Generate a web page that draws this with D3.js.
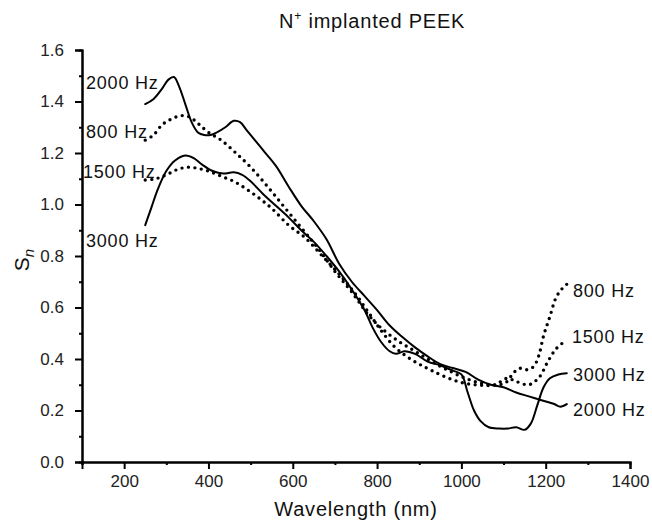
<!DOCTYPE html>
<html>
<head>
<meta charset="utf-8">
<script src="https://cdn.jsdelivr.net/npm/d3@7"></script>
<style>
  body { margin: 0; background: #fff; }
  svg { display: block; }
</style>
</head>
<body>
<script>
// wavelength (nm) / S_n, one pair of arrays per frequency
const nm2000 = [250, 270, 290, 305, 318, 330, 345, 360, 375, 390, 405, 420, 440, 460, 475, 490, 510, 530, 560, 590, 620, 650, 680, 710, 740, 770, 800, 830, 860, 890, 920, 950, 980, 1010, 1040, 1070, 1100, 1130, 1160, 1190, 1220, 1235, 1250];
const s2000 = [1.39, 1.41, 1.45, 1.485, 1.495, 1.46, 1.39, 1.32, 1.28, 1.27, 1.27, 1.28, 1.3, 1.325, 1.32, 1.29, 1.25, 1.21, 1.15, 1.07, 0.995, 0.935, 0.865, 0.77, 0.7, 0.645, 0.59, 0.53, 0.485, 0.445, 0.41, 0.38, 0.365, 0.35, 0.32, 0.3, 0.29, 0.27, 0.255, 0.24, 0.225, 0.215, 0.225];

const nm3000 = [250, 265, 280, 300, 320, 345, 365, 385, 410, 435, 460, 480, 500, 530, 560, 590, 620, 650, 680, 710, 740, 770, 790, 810, 830, 845, 865, 890, 920, 950, 980, 1000, 1015, 1030, 1045, 1065, 1090, 1110, 1130, 1150, 1165, 1180, 1195, 1210, 1230, 1250];
const s3000 = [0.92, 0.99, 1.06, 1.13, 1.17, 1.19, 1.18, 1.155, 1.13, 1.12, 1.125, 1.115, 1.09, 1.04, 0.995, 0.95, 0.9, 0.855, 0.8, 0.74, 0.67, 0.59, 0.52, 0.465, 0.43, 0.42, 0.43, 0.42, 0.39, 0.375, 0.355, 0.34, 0.27, 0.2, 0.16, 0.135, 0.13, 0.13, 0.135, 0.125, 0.15, 0.22, 0.29, 0.325, 0.34, 0.345];

const nm800 = [250, 270, 290, 310, 335, 355, 375, 400, 430, 465, 500, 540, 580, 620, 660, 700, 740, 780, 810, 850, 890, 930, 970, 1010, 1050, 1090, 1108, 1123, 1139, 1155, 1171, 1183, 1195, 1210, 1225, 1240, 1250];
const s800 = [1.25, 1.27, 1.31, 1.33, 1.345, 1.34, 1.315, 1.28, 1.25, 1.2, 1.145, 1.07, 0.99, 0.91, 0.83, 0.74, 0.66, 0.57, 0.52, 0.47, 0.43, 0.39, 0.355, 0.325, 0.305, 0.3, 0.312, 0.345, 0.364, 0.358, 0.37, 0.41, 0.49, 0.565, 0.64, 0.675, 0.69];

const nm1500 = [250, 275, 300, 325, 350, 375, 400, 430, 460, 490, 520, 550, 590, 630, 670, 710, 750, 780, 810, 840, 870, 900, 930, 970, 1010, 1050, 1080, 1108, 1131, 1160, 1185, 1205, 1225, 1250];
const s1500 = [1.095, 1.1, 1.115, 1.135, 1.145, 1.14, 1.13, 1.11, 1.09, 1.06, 1.025, 0.985, 0.92, 0.87, 0.8, 0.73, 0.65, 0.58, 0.51, 0.45, 0.41, 0.38, 0.355, 0.325, 0.305, 0.298, 0.3, 0.325, 0.312, 0.3, 0.33, 0.39, 0.44, 0.475];

const xMajor = [200, 400, 600, 800, 1000, 1200, 1400];
const xMinor = [100, 300, 500, 700, 900, 1100, 1300];
const yMajor = [0, 0.2, 0.4, 0.6, 0.8, 1.0, 1.2, 1.4, 1.6];
const yMinor = [0.1, 0.3, 0.5, 0.7, 0.9, 1.1, 1.3, 1.5];

const series = [
  { name: "2000 Hz", nm: nm2000, s: s2000, dotted: false, left: [86, 89], right: [573, 416] },
  { name: "800 Hz", nm: nm800, s: s800, dotted: true, left: [86, 138], right: [573, 297] },
  { name: "1500 Hz", nm: nm1500, s: s1500, dotted: true, left: [83, 178], right: [572, 343] },
  { name: "3000 Hz", nm: nm3000, s: s3000, dotted: false, left: [86, 247], right: [573, 381] },
];

const width = 652;
const height = 520;
const font = "'Liberation Sans', Arial, Helvetica, sans-serif";

const x = d3.scaleLinear().domain([100, 1400]).range([82, 630]);
const y = d3.scaleLinear().domain([0, 1.6]).range([462, 50]);

const svg = d3
  .select("body")
  .append("svg")
  .attr("width", width)
  .attr("height", height)
  .attr("font-family", font);

// axes
const xAxis = d3.axisBottom(x).tickValues(xMajor).tickSize(7).tickPadding(6).tickFormat(d3.format("d"));
const xAxisMinor = d3.axisBottom(x).tickValues(xMinor).tickSize(3).tickFormat("");
const yAxis = d3.axisLeft(y).tickValues(yMajor).tickSize(7).tickPadding(11).tickFormat(d3.format(".1f"));
const yAxisMinor = d3.axisLeft(y).tickValues(yMinor).tickSize(3).tickFormat("");

const axisGroup = svg.append("g");

axisGroup.append("g").attr("transform", `translate(0 ${y(0)})`).call(xAxisMinor);
axisGroup.append("g").attr("transform", `translate(0 ${y(0)})`).call(xAxis);
axisGroup.append("g").attr("transform", `translate(${x(100)} 0)`).call(yAxisMinor);
axisGroup.append("g").attr("transform", `translate(${x(100)} 0)`).call(yAxis);

axisGroup.selectAll(".domain").attr("stroke", "#000").attr("stroke-width", 2);
axisGroup.selectAll(".tick line").attr("stroke", "#000").attr("stroke-width", 2);
axisGroup
  .selectAll("text")
  .attr("font-size", 17)
  .attr("font-family", font)
  .attr("fill", "#222");

// curves
const line = d3
  .line()
  .x((d) => x(d[0]))
  .y((d) => y(d[1]))
  .curve(d3.curveCatmullRom.alpha(0.5));

const dataGroup = svg.append("g");

series.forEach((sr) => {
  const pts = sr.nm.map((w, i) => [w, sr.s[i]]);
  dataGroup
    .append("path")
    .datum(pts)
    .attr("d", line)
    .attr("fill", "none")
    .attr("stroke", "#000")
    .attr("stroke-width", sr.dotted ? 3.4 : 2)
    .attr("stroke-linecap", "round")
    .attr("stroke-linejoin", "round")
    .attr("stroke-dasharray", sr.dotted ? "0 6.5" : null);
});

// series labels at both ends
const labelGroup = svg.append("g").attr("font-size", 18).attr("letter-spacing", 0.8).attr("fill", "#111");

series.forEach((sr) => {
  labelGroup.append("text").attr("x", sr.left[0]).attr("y", sr.left[1]).text(sr.name);
  labelGroup.append("text").attr("x", sr.right[0]).attr("y", sr.right[1]).text(sr.name);
});

// titles
svg
  .append("text")
  .attr("x", 279)
  .attr("y", 28)
  .attr("font-size", 20)
  .attr("letter-spacing", 0.8)
  .attr("fill", "#111")
  .html('N<tspan font-size="12" dy="-8">+</tspan><tspan dy="8"> implanted PEEK</tspan>');

svg
  .append("text")
  .attr("x", (x(100) + x(1400)) / 2)
  .attr("y", 516)
  .attr("text-anchor", "middle")
  .attr("font-size", 20)
  .attr("letter-spacing", 0.8)
  .attr("fill", "#111")
  .text("Wavelength (nm)");

svg
  .append("text")
  .attr("transform", `translate(29 ${(y(0) + y(1.6)) / 2 + 4}) rotate(-90)`)
  .attr("text-anchor", "middle")
  .attr("font-size", 21)
  .attr("fill", "#111")
  .html('S<tspan font-size="15" font-style="italic" dy="5">n</tspan>');
</script>
</body>
</html>
